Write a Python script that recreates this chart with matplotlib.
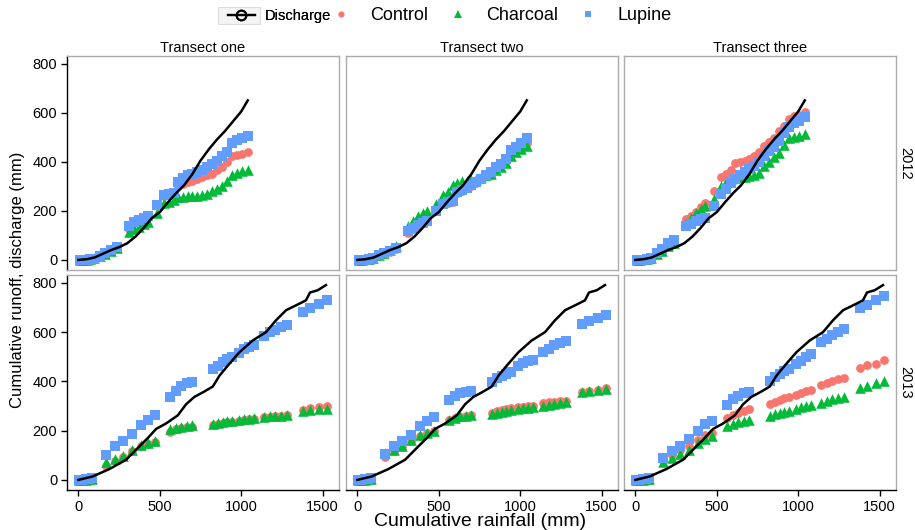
import matplotlib
matplotlib.use("Agg")
import matplotlib.pyplot as plt
from matplotlib.lines import Line2D
from matplotlib.patches import Rectangle

plt.rcParams['font.family'] = ['Liberation Sans', 'DejaVu Sans']

# ---------------- data ----------------
transects = ["Transect one", "Transect two", "Transect three"]
years = ["2012", "2013"]
x_ticks = [0, 500, 1000, 1500]
y_ticks = [0, 200, 400, 600, 800]

# discharge (same for every transect)
dis_rain_2012 = [0, 50, 100, 150, 200, 250, 300, 350, 400, 450, 500, 550, 600, 650,
                 700, 750, 800, 850, 900, 950, 1000, 1040]
dis_2012 = [0, 3, 10, 25, 40, 52, 68, 95, 130, 170, 195, 235, 272, 305,
            350, 405, 450, 490, 525, 565, 605, 650]
dis_rain_2013 = [0, 88, 190, 293, 374, 426, 477, 538, 610, 661, 712, 763, 825, 866,
                 917, 988, 1070, 1152, 1213, 1275, 1346, 1397, 1422, 1469, 1520]
dis_2013 = [0, 14, 44, 82, 136, 170, 207, 229, 262, 307, 337, 355, 379, 423,
            464, 518, 566, 600, 648, 689, 712, 729, 761, 770, 791]

# runoff plots: cumulative rainfall at sampling
rain_2012 = [10, 30, 50, 70, 95, 135, 165, 200, 240, 310, 340, 370, 400, 425, 480,
             525, 555, 585, 610, 640, 670, 700, 730, 760, 790, 820, 850, 880, 910,
             945, 975, 1005, 1040]
rain_2013 = [5, 25, 45, 65, 85, 172, 225, 276, 328, 382, 428, 468, 560, 600, 630,
             665, 700, 825, 855, 885, 915, 945, 985, 1015, 1045, 1080, 1140, 1175,
             1210, 1245, 1280, 1380, 1420, 1475, 1525]

control_2012_t1 = [0, 0, 1, 3, 6, 18, 30, 42, 55, 128, 150, 160, 170, 175, 222, 262, 268, 272,
                   300, 308, 316, 323, 330, 337, 344, 352, 366, 380, 397, 423, 426, 431, 438]
charcoal_2012_t1 = [0, 0, 1, 3, 6, 15, 25, 38, 48, 113, 124, 135, 147, 154, 193, 233, 236, 245,
                    255, 258, 260, 261, 261, 264, 270, 279, 288, 300, 322, 348, 356, 361, 368]
lupine_2012_t1 = [0, 0, 1, 2, 5, 18, 29, 41, 53, 140, 155, 163, 172, 178, 224, 265, 268, 274,
                  318, 333, 344, 351, 358, 366, 378, 391, 403, 423, 438, 477, 487, 495, 506]

control_2012_t2 = [0, 0, 1, 3, 6, 18, 26, 34, 46, 110, 125, 140, 150, 158, 198, 226, 232, 238,
                   272, 282, 292, 303, 314, 328, 342, 356, 374, 388, 408, 440, 455, 465, 478]
charcoal_2012_t2 = [0, 0, 2, 4, 8, 22, 30, 42, 55, 138, 160, 178, 190, 198, 228, 265, 275, 305,
                    315, 320, 322, 326, 330, 336, 344, 352, 365, 378, 395, 425, 438, 450, 465]
lupine_2012_t2 = [0, 0, 1, 3, 6, 20, 27, 35, 48, 117, 130, 143, 152, 160, 200, 228, 234, 240,
                  275, 284, 294, 305, 316, 331, 346, 360, 379, 392, 413, 448, 462, 475, 495]

control_2012_t3 = [0, 1, 3, 6, 10, 25, 40, 56, 86, 165, 180, 196, 215, 230, 281, 336, 352, 365,
                   395, 400, 404, 411, 425, 440, 466, 479, 498, 525, 545, 575, 586, 592, 602]
charcoal_2012_t3 = [0, 0, 2, 4, 8, 25, 38, 55, 70, 152, 170, 190, 206, 218, 247, 302, 318, 330,
                    334, 336, 337, 343, 346, 356, 383, 397, 418, 434, 470, 498, 502, 506, 513]
lupine_2012_t3 = [0, 0, 1, 3, 8, 30, 45, 70, 83, 138, 148, 160, 166, 172, 220, 270, 290, 312,
                  330, 346, 360, 372, 384, 397, 424, 444, 462, 485, 518, 541, 556, 568, 582]

control_2013_t1 = [0, 0, 1, 3, 5, 58, 78, 92, 116, 136, 147, 155, 195, 205, 210, 214, 216,
                   222, 226, 230, 234, 236, 240, 244, 246, 248, 254, 257, 259, 261, 263,
                   285, 290, 295, 300]
charcoal_2013_t1 = [0, 0, 1, 3, 5, 71, 84, 97, 120, 140, 150, 158, 205, 212, 216, 219, 221,
                    229, 233, 236, 238, 240, 245, 247, 248, 250, 256, 258, 259, 260, 262,
                    280, 282, 286, 289]
lupine_2013_t1 = [0, 0, 2, 4, 7, 102, 136, 158, 188, 221, 245, 262, 338, 362, 382, 392, 396,
                  450, 464, 477, 491, 500, 515, 532, 541, 548, 585, 600, 610, 620, 630,
                  682, 698, 716, 730]

control_2013_t2 = [0, 0, 1, 3, 5, 92, 118, 135, 158, 178, 190, 197, 243, 252, 257, 259, 262,
                   272, 278, 282, 288, 291, 294, 297, 299, 300, 312, 316, 318, 320, 322,
                   358, 362, 366, 372]
charcoal_2013_t2 = [0, 0, 1, 3, 5, 109, 123, 139, 161, 181, 191, 198, 245, 252, 258, 260, 262,
                    268, 273, 277, 281, 284, 288, 291, 293, 295, 302, 306, 309, 312, 315,
                    357, 361, 365, 370]
lupine_2013_t2 = [0, 0, 2, 4, 7, 106, 136, 157, 184, 218, 241, 255, 324, 340, 351, 358, 361,
                  398, 412, 421, 432, 440, 464, 475, 484, 488, 518, 533, 546, 557, 565,
                  634, 644, 657, 671]

control_2013_t3 = [0, 0, 1, 3, 5, 82, 102, 123, 139, 164, 184, 191, 250, 262, 272, 280, 287,
                   307, 317, 326, 332, 336, 345, 354, 360, 366, 385, 393, 401, 408, 413,
                   454, 465, 472, 486]
charcoal_2013_t3 = [0, 0, 1, 3, 5, 71, 89, 105, 123, 150, 168, 177, 218, 229, 235, 240, 243,
                    259, 266, 272, 276, 279, 287, 294, 300, 303, 314, 321, 327, 332, 336,
                    375, 382, 393, 402]
lupine_2013_t3 = [0, 0, 2, 4, 7, 89, 116, 139, 168, 198, 229, 239, 304, 330, 342, 352, 358,
                  400, 418, 432, 441, 450, 470, 484, 498, 511, 559, 573, 589, 600, 611,
                  698, 709, 729, 747]

series = {
    ("2012", 0): (control_2012_t1, charcoal_2012_t1, lupine_2012_t1),
    ("2012", 1): (control_2012_t2, charcoal_2012_t2, lupine_2012_t2),
    ("2012", 2): (control_2012_t3, charcoal_2012_t3, lupine_2012_t3),
    ("2013", 0): (control_2013_t1, charcoal_2013_t1, lupine_2013_t1),
    ("2013", 1): (control_2013_t2, charcoal_2013_t2, lupine_2013_t2),
    ("2013", 2): (control_2013_t3, charcoal_2013_t3, lupine_2013_t3),
}
rain = {"2012": rain_2012, "2013": rain_2013}
discharge = {"2012": (dis_rain_2012, dis_2012), "2013": (dis_rain_2013, dis_2013)}

# ---------------- style ----------------
C_CTRL = "#F8766D"
C_CHAR = "#00BA38"
C_LUP = "#619CFF"
BORDER = "#ababab"

W, H = 915, 530
fig = plt.figure(figsize=(W / 100, H / 100), dpi=100)

col_left = [67, 346, 624]
col_w = 272
row_top = [55.7, 275]
row_h = [214.3, 215]

for r, yr in enumerate(years):
    for c in range(3):
        x0 = col_left[c] / W
        y0 = (H - row_top[r] - row_h[r]) / H
        ax = fig.add_axes([x0, y0, col_w / W, row_h[r] / H])
        ctrl, char, lup = series[(yr, c)]
        xr = rain[yr]
        ax.scatter(xr, ctrl, marker='o', s=40, color=C_CTRL, linewidths=0, zorder=2)
        ax.scatter(xr, char, marker='^', s=58, color=C_CHAR, linewidths=0, zorder=3)
        ax.scatter(xr, lup, marker='s', s=46, color=C_LUP, linewidths=0, zorder=4)
        dx, dy = discharge[yr]
        ax.plot(dx, dy, color='black', lw=1.8, zorder=5, solid_joinstyle='round')

        ax.set_xlim(-70, 1600)
        ax.set_ylim(-41, 832)
        ax.set_xticks(x_ticks)
        ax.set_yticks(y_ticks)
        for s in ax.spines.values():
            s.set_color(BORDER)
            s.set_linewidth(1.0)
        ax.tick_params(direction='out', length=4, width=1, color='black',
                       labelsize=10.5, labelcolor='black', pad=3)
        if c == 0:
            ax.spines['left'].set_color('black')
        else:
            ax.tick_params(axis='y', left=False, labelleft=False)
        if r == 1:
            ax.spines['bottom'].set_color('black')
        else:
            ax.tick_params(axis='x', bottom=False, labelbottom=False)
        if r == 0:
            ax.set_title(transects[c], fontsize=10.5, pad=3)
        if c == 2:
            ax.text(1.035, 0.5, yr, transform=ax.transAxes, rotation=270,
                    ha='center', va='center', fontsize=10.5)

fig.text(480 / W, 1 - 521 / H, "Cumulative rainfall (mm)", ha='center', va='center',
         fontsize=14)
fig.text(18 / W, 1 - 280 / H, "Cumulative runoff, discharge (mm)", ha='center',
         va='center', rotation=90, fontsize=12)

# ---------------- legend ----------------
ly = 1 - 16 / H
h_dis = Line2D([], [], color='black', lw=1.6, marker='o', markersize=7,
               markerfacecolor='none', markeredgecolor='black', markeredgewidth=1.4)
leg1 = fig.legend([h_dis], ["Discharge"], loc='center left',
                  bbox_to_anchor=(228 / W, ly), frameon=False, fontsize=10.5,
                  handlelength=1.85, handletextpad=0.7, borderpad=0, borderaxespad=0)
fig.add_artist(Rectangle((218 / W, 1 - 24 / H), 42 / W, 17 / H, transform=fig.transFigure,
                         facecolor='#f4f4f4', edgecolor='#dddddd', lw=0.8, zorder=0))
h_ctrl = Line2D([], [], ls='none', marker='o', markersize=4.5, color=C_CTRL, markeredgewidth=0)
h_char = Line2D([], [], ls='none', marker='^', markersize=5.5, color=C_CHAR, markeredgewidth=0)
h_lup = Line2D([], [], ls='none', marker='s', markersize=4.5, color=C_LUP, markeredgewidth=0)
leg2 = fig.legend([h_ctrl, h_char, h_lup], ["Control", "Charcoal", "Lupine"],
                  loc='center left', bbox_to_anchor=(332 / W, ly), ncol=3, frameon=False,
                  fontsize=13, handlelength=1.0, handletextpad=1.1, columnspacing=1.15,
                  borderpad=0, borderaxespad=0)
fig.add_artist(leg1)

fig.savefig("out.png", dpi=100)
